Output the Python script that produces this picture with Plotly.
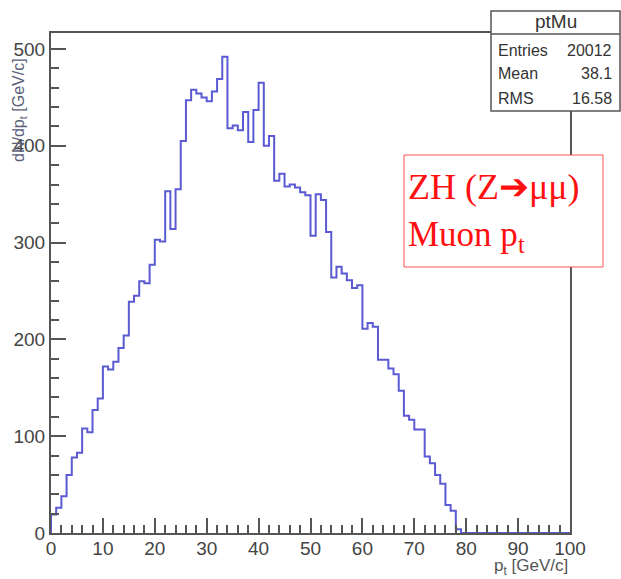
import numpy as np
import plotly.graph_objects as go

# ---- data -------------------------------------------------------------
bin_edges = list(range(0, 101))  # 100 bins of 1 GeV/c from 0 to 100
counts = [19, 26, 38, 60, 78, 83, 108, 104, 127, 139,
          172, 169, 177, 191, 204, 239, 245, 260, 258, 277,
          303, 301, 353, 314, 355, 405, 447, 458, 454, 450,
          446, 456, 469, 492, 418, 421, 416, 435, 404, 437,
          465, 400, 410, 364, 371, 358, 360, 357, 352, 349,
          307, 350, 344, 311, 264, 275, 268, 261, 253, 256,
          211, 217, 213, 179, 179, 170, 164, 147, 121, 117,
          107, 107, 79, 72, 60, 51, 29, 23, 4, 0,
          0, 0, 0, 0, 0, 0, 0, 0, 0, 0,
          0, 0, 0, 0, 0, 0, 0, 0, 0, 0]
stats_labels = ["Entries", "Mean", "RMS"]
stats_values = ["20012", "38.1", "16.58"]
hist_name = "ptMu"
x_ticks = [0, 10, 20, 30, 40, 50, 60, 70, 80, 90, 100]
y_ticks = [0, 100, 200, 300, 400, 500]

# ---- figure -----------------------------------------------------------
W, H = 621, 579
ML, MR, MT, MB = 51, 51, 33, 46
PW, PH = W - ML - MR, H - MT - MB

def px_x(p):
    return (p - ML) / PW

def px_y(p):
    return (H - MB - p) / PH

xs = [bin_edges[0]] + bin_edges
ys = [0] + counts + [counts[-1]]

fig = go.Figure()
fig.add_trace(go.Scatter(
    x=xs, y=ys, mode="lines", line_shape="hv",
    line=dict(color="#5a5ad2", width=2), hoverinfo="skip", showlegend=False))

axis_common = dict(
    showline=True, linecolor="#555555", linewidth=2, mirror=True,
    ticks="inside", ticklen=15, tickwidth=1.5, tickcolor="#555555",
    showgrid=False, zeroline=False,
    tickfont=dict(family="Liberation Sans, Arial", size=19, color="#444444"),
)

fig.update_layout(
    width=W, height=H,
    margin=dict(l=ML, r=MR, t=MT, b=MB),
    paper_bgcolor="white", plot_bgcolor="white",
    xaxis=dict(range=[0, 100], tickvals=x_ticks, ticktext=[str(v) for v in x_ticks],
               ticklabelstandoff=-3,
               minor=dict(dtick=2, ticklen=8, ticks="inside", tickcolor="#555555", tickwidth=1.5),
               **axis_common),
    yaxis=dict(range=[0, 516.5], tickvals=y_ticks, ticktext=[str(v) for v in y_ticks],
               minor=dict(dtick=20, ticklen=8, ticks="inside", tickcolor="#555555", tickwidth=1.5),
               **axis_common),
)

shapes = []
# stats box
sx0, sx1, sy0, sy1 = 491, 620, 11, 111
shapes.append(dict(type="rect", xref="paper", yref="paper",
                   x0=px_x(sx0), x1=px_x(sx1), y0=px_y(sy1), y1=px_y(sy0),
                   fillcolor="white", line=dict(color="#555555", width=1.5), layer="above"))
shapes.append(dict(type="line", xref="paper", yref="paper",
                   x0=px_x(sx0), x1=px_x(sx1), y0=px_y(34), y1=px_y(34),
                   line=dict(color="#555555", width=1.5), layer="above"))
# red label box
shapes.append(dict(type="rect", xref="paper", yref="paper",
                   x0=px_x(404), x1=px_x(603), y0=px_y(267), y1=px_y(155),
                   fillcolor="white", line=dict(color="#ff5050", width=1), layer="above"))
fig.update_layout(shapes=shapes)

ann = []
ann.append(dict(text=hist_name, xref="paper", yref="paper", x=px_x((sx0 + sx1) / 2), y=px_y(22),
                showarrow=False, xanchor="center", yanchor="middle",
                font=dict(family="Liberation Sans, Arial", size=19, color="#333333")))
rows_y = [50, 74, 98]
for lab, val, ry in zip(stats_labels, stats_values, rows_y):
    ann.append(dict(text=lab, xref="paper", yref="paper", x=px_x(496), y=px_y(ry),
                    showarrow=False, xanchor="left", yanchor="middle",
                    font=dict(family="Liberation Sans, Arial", size=16, color="#333333")))
    ann.append(dict(text=val, xref="paper", yref="paper", x=px_x(614), y=px_y(ry),
                    showarrow=False, xanchor="right", yanchor="middle",
                    font=dict(family="Liberation Sans, Arial", size=16, color="#333333")))
# red labels
ann.append(dict(text="ZH (Z\u2794\u03bc\u03bc)", xref="paper", yref="paper", x=px_x(406), y=px_y(187),
                showarrow=False, xanchor="left", yanchor="middle",
                font=dict(family="Liberation Serif, Times New Roman", size=36, color="#ff1010")))
ann.append(dict(text="Muon p<sub>t</sub>", xref="paper", yref="paper", x=px_x(406), y=px_y(236),
                showarrow=False, xanchor="left", yanchor="middle",
                font=dict(family="Liberation Serif, Times New Roman", size=35, color="#ff1010")))
# axis titles
ann.append(dict(text="p<sub>t</sub> [GeV/c]", xref="paper", yref="paper", x=1.0, y=px_y(567),
                showarrow=False, xanchor="right", yanchor="middle",
                font=dict(family="Liberation Sans, Arial", size=17, color="#555555")))
ann.append(dict(text="dN/dp<sub>t</sub> [GeV/c]", xref="paper", yref="paper", x=px_x(19), y=px_y(110),
                showarrow=False, xanchor="center", yanchor="middle", textangle=-90,
                font=dict(family="Liberation Sans, Arial", size=16, color="#5a6078")))
fig.update_layout(annotations=ann)

fig.write_html("out.html")
